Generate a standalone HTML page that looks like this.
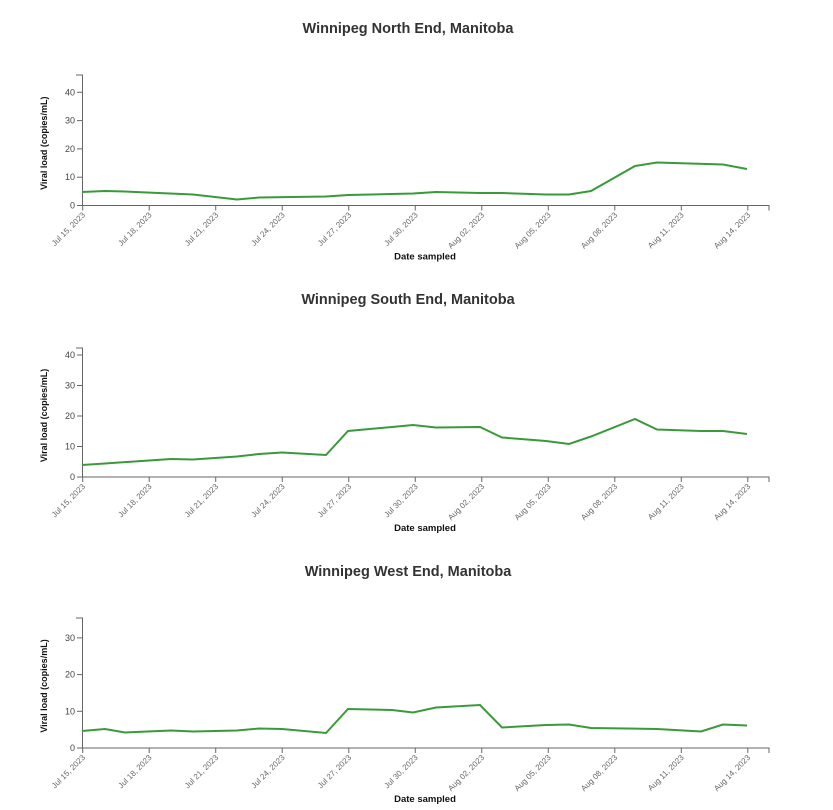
<!DOCTYPE html>
<html><head><meta charset="utf-8"><style>
body{margin:0;background:#fff;}
svg{display:block;font-family:"Liberation Sans",sans-serif;}
</style></head><body>
<svg id="s" width="833" height="810" xmlns="http://www.w3.org/2000/svg"></svg>
<script>
const s=document.getElementById('s');
const x0=82.7,dx=22.17;
const dates=["Jul 15, 2023","Jul 18, 2023","Jul 21, 2023","Jul 24, 2023","Jul 27, 2023","Jul 30, 2023","Aug 02, 2023","Aug 05, 2023","Aug 08, 2023","Aug 11, 2023","Aug 14, 2023"];
const charts=[
 {title:"Winnipeg North End, Manitoba",ty:33,y0:205.5,top:75,per10:28.3,ticks:[0,10,20,30,40],
  pts:[[82,192],[105,191],[125,191.5],[193,194.5],[237,199.5],[259,197.5],[326,196.5],[348,195],[413,193.5],[436,192],[480,193],[502,193],[546,194.5],[569,194.5],[591,191],[635,166],[657,162.5],[723,164.5],[747,169]]},
 {title:"Winnipeg South End, Manitoba",ty:304,y0:477,top:348,per10:30.5,ticks:[0,10,20,30,40],
  pts:[[82,465],[105,463.5],[171,459],[193,459.5],[237,456.5],[259,454],[282,452.5],[326,455],[348,431],[392,427],[413,425],[436,427.5],[480,427],[502,437.5],[546,441],[569,444],[591,436.5],[635,419],[657,429.5],[701,431],[723,431],[747,434]]},
 {title:"Winnipeg West End, Manitoba",ty:576,y0:748,top:618,per10:36.7,ticks:[0,10,20,30],
  pts:[[82,731],[105,729],[125,732.5],[171,730.5],[193,731.5],[237,730.5],[259,728.5],[282,729],[326,733],[348,709],[392,710],[413,712.5],[436,707.5],[480,705],[502,727.5],[546,725],[569,724.5],[591,728],[657,729],[701,731.5],[723,724.5],[747,725.5]]}
];
let h='';
for(const c of charts){
 h+=`<text x="408" y="${c.ty}" text-anchor="middle" font-size="14.5" font-weight="bold" fill="#333">${c.title}</text>`;
 h+=`<path d="M76,${c.top}H82.5V${c.y0}M82.5,${c.y0}H769V${c.y0+5}" fill="none" stroke="#666" stroke-width="1"/>`;
 for(const t of c.ticks){const y=c.y0-t*c.per10/10;
  h+=`<line x1="77" x2="82.5" y1="${y}" y2="${y}" stroke="#666"/><text x="75" y="${y+3}" text-anchor="end" font-size="9" fill="#444">${t}</text>`;}
 dates.forEach((d,i)=>{const x=x0+i*3*dx;
  h+=`<line x1="${x}" x2="${x}" y1="${c.y0}" y2="${c.y0+5}" stroke="#666"/><text transform="translate(${x+3},${c.y0+10}) rotate(-45)" text-anchor="end" font-size="8" fill="#666">${d}</text>`;});
 h+=`<text x="425" y="${c.y0+54}" text-anchor="middle" font-size="9.5" font-weight="bold" fill="#111">Date sampled</text>`;
 h+=`<text transform="translate(47,${(c.top+c.y0)/2+3}) rotate(-90)" text-anchor="middle" font-size="9" font-weight="bold" fill="#111">Viral load (copies/mL)</text>`;
 h+=`<polyline points="${c.pts.map(p=>p.join(',')).join(' ')}" fill="none" stroke="#3a9a3a" stroke-width="2"/>`;
}
s.innerHTML=h;
</script>
</body></html>
